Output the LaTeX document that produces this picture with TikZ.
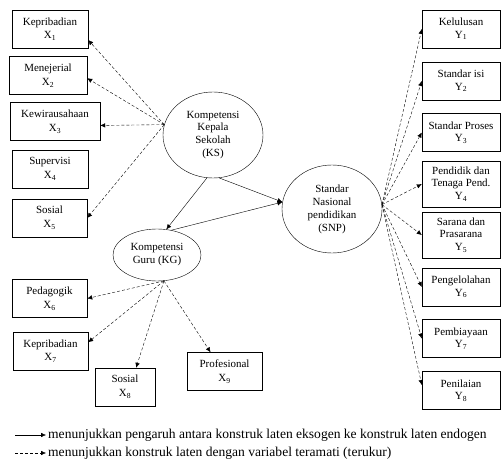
\documentclass[tikz,border=0pt]{standalone}
\usepackage{fontspec}
\setmainfont{Liberation Serif}
\usetikzlibrary{positioning,shapes.geometric,arrows.meta}

\begin{document}
\begin{tikzpicture}[x=1bp,y=-1bp,
    box/.style={draw,thin,minimum height=38bp,inner sep=1pt,align=center,font=\fontsize{11}{14}\selectfont},
    latent/.style={draw,thin,ellipse,inner sep=0pt,align=center,font=\fontsize{11}{13}\selectfont},
    ind/.style={-{Latex[length=5bp,width=4.5bp]},thin,dash pattern=on 3bp off 2bp},
    eff/.style={-{Latex[length=5bp,width=4.5bp]},thin}]
\useasboundingbox (0,0) rectangle (503,466);

% Latent constructs
\node[latent,minimum width=100bp,minimum height=86bp] (ks) at (213,135) {Kompetensi\\Kepala\\Sekolah\\(KS)};
\node[latent,minimum width=88bp,minimum height=52bp] (kg) at (157,255) {Kompetensi\\Guru (KG)};
\node[latent,minimum width=100bp,minimum height=88bp] (snp) at (332,209) {Standar\\Nasional\\pendidikan\\(SNP)};

% Indicators of KS and KG
\foreach \n/\x/\y/\w/\t in {x1/50/29/76/{Kepribadian\\X\textsubscript{1}},
    x2/48/75.5/78/{Menejerial\\X\textsubscript{2}},
    x3/55/121.5/90/{Kewirausahaan\\X\textsubscript{3}},
    x4/50/169/76/{Supervisi\\X\textsubscript{4}},
    x5/49.5/218/75/{Sosial\\X\textsubscript{5}},
    x6/49.5/298.5/75/{Pedagogik\\X\textsubscript{6}},
    x7/50.5/351/75/{Kepribadian\\X\textsubscript{7}},
    x8/125/387/60/{Sosial\\X\textsubscript{8}},
    x9/224.5/371.5/75/{Profesional\\X\textsubscript{9}}} {
    \node[box,minimum width=\w bp] (\n) at (\x,\y) {\t};
}

% Indicators of SNP
\foreach \n/\y/\h/\t in {y1/29/38/{Kelulusan\\Y\textsubscript{1}},
    y2/81/38/{Standar isi\\Y\textsubscript{2}},
    y3/132.5/38/{Standar Proses\\Y\textsubscript{3}},
    y4/184/46/{Pendidik dan\\Tenaga Pend.\\Y\textsubscript{4}},
    y5/235/46/{Sarana dan\\Prasarana\\Y\textsubscript{5}},
    y6/287/38/{Pengelolahan\\Y\textsubscript{6}},
    y7/338.5/38/{Pembiayaan\\Y\textsubscript{7}},
    y8/390.5/38/{Penilaian\\Y\textsubscript{8}}} {
    \node[box,minimum width=78bp,minimum height=\h bp,font=\fontsize{11}{12.5}\selectfont] (\n) at (461,\y) {\t};
}

% Structural paths
\draw[eff] (ks.262) -- (kg.70);
\draw[eff] (ks.-82) -- (snp.172);
\draw[eff] (kg.60) -- (snp.172);

% Measurement paths
\draw[ind] (ks.168) -- (x1.-16);
\draw[ind] (ks.168) -- (x2.-4);
\draw[ind] (ks.168) -- (x3.-5);
\draw[ind] (ks.168) -- (x5.east);
\draw[ind] (kg.-75) -- (x6.east);
\draw[ind] (kg.-75) -- (x7.13);
\draw[ind] (kg.-75) -- (x8.60);
\draw[ind] (kg.-75) -- (x9.126);
\draw[ind] (snp.5) -- (y1.west);
\draw[ind] (snp.5) -- (y2.west);
\draw[ind] (snp.5) -- (y3.west);
\draw[ind] (snp.5) -- (y4.west);
\draw[ind] (snp.5) -- (y5.west);
\draw[ind] (snp.5) -- (y6.west);
\draw[ind] (snp.5) -- (y7.west);
\draw[ind] (snp.5) -- (y8.172);

% Legend
\coordinate (la) at (15,435);
\coordinate (lb) at (46,435);
\coordinate (lc) at (15,453);
\coordinate (ld) at (46,453);
\draw[eff] (la) -- (lb);
\draw[ind] (lc) -- (ld);
\node[right=2bp of lb,inner sep=0pt,font=\fontsize{13.6}{15}\selectfont] (t1) {menunjukkan pengaruh antara konstruk laten eksogen ke konstruk laten endogen};
\node[right=2bp of ld,inner sep=0pt,font=\fontsize{13.6}{15}\selectfont] (t2) {menunjukkan konstruk laten dengan variabel teramati (terukur)};
\end{tikzpicture}
\end{document}
